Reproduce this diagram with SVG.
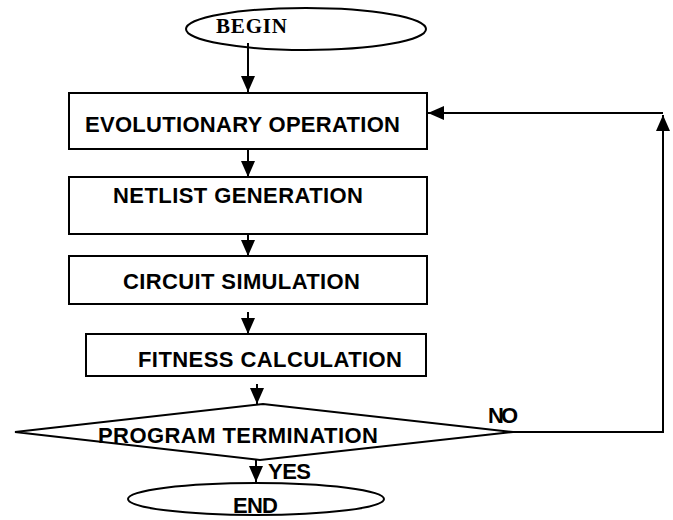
<svg xmlns="http://www.w3.org/2000/svg" width="673" height="520" viewBox="0 0 673 520">
<defs>
<style>
.shape{fill:#fff;stroke:#000;stroke-width:2}
.line{fill:none;stroke:#000;stroke-width:2}
.t{font-family:"Liberation Sans",Arial,sans-serif;font-weight:bold;font-size:22px;fill:#000}
.ts{font-family:"Liberation Serif","Times New Roman",serif;font-weight:bold;font-size:21px;fill:#000}
</style>
<marker id="ah" viewBox="0 0 16 14" refX="16" refY="7" markerWidth="16" markerHeight="14" markerUnits="userSpaceOnUse" orient="auto">
<path d="M0,0 L16,7 L0,14 Z" fill="#000"/>
</marker>
</defs>
<rect width="673" height="520" fill="#fff"/>
<g id="begin">
<ellipse class="shape" cx="306" cy="29" rx="120" ry="21"/>
<text class="ts" x="216" y="33" textLength="71">BEGIN</text>
</g>
<g id="evolutionary">
<rect class="shape" x="69" y="93" width="358" height="56"/>
<text class="t" x="85" y="132" textLength="315">EVOLUTIONARY OPERATION</text>
</g>
<g id="netlist">
<rect class="shape" x="69" y="177" width="358" height="57"/>
<text class="t" x="113" y="203" textLength="250">NETLIST GENERATION</text>
</g>
<g id="circuit">
<rect class="shape" x="69" y="256" width="358" height="48"/>
<text class="t" x="123" y="289" textLength="237">CIRCUIT SIMULATION</text>
</g>
<g id="fitness">
<rect class="shape" x="86" y="334" width="340" height="42"/>
<text class="t" x="138" y="367" textLength="264">FITNESS CALCULATION</text>
</g>
<g id="termination">
<polygon class="shape" points="15,432 263,404 513,432 260,460"/>
<text class="t" x="98" y="443" textLength="280">PROGRAM TERMINATION</text>
</g>
<g id="end">
<ellipse class="shape" cx="256" cy="499" rx="128" ry="16"/>
<text class="t" x="233" y="513" textLength="45">END</text>
</g>
<g id="connectors">
<line class="line" x1="248" y1="43" x2="248" y2="92" marker-end="url(#ah)"/>
<line class="line" x1="248" y1="149" x2="248" y2="177" marker-end="url(#ah)"/>
<line class="line" x1="248" y1="234" x2="248" y2="256" marker-end="url(#ah)"/>
<line class="line" x1="248" y1="312" x2="248" y2="334" marker-end="url(#ah)"/>
<line class="line" x1="257" y1="384" x2="257" y2="404" marker-end="url(#ah)"/>
<line class="line" x1="256" y1="460" x2="256" y2="482" marker-end="url(#ah)"/>
<polyline class="line" points="513,432 663,432 663,115" marker-end="url(#ah)"/>
<line class="line" x1="663" y1="113" x2="428" y2="113" marker-end="url(#ah)"/>
<text class="t" x="488" y="423" textLength="30">NO</text>
<text class="t" x="268" y="479" textLength="43">YES</text>
</g>
</svg>
